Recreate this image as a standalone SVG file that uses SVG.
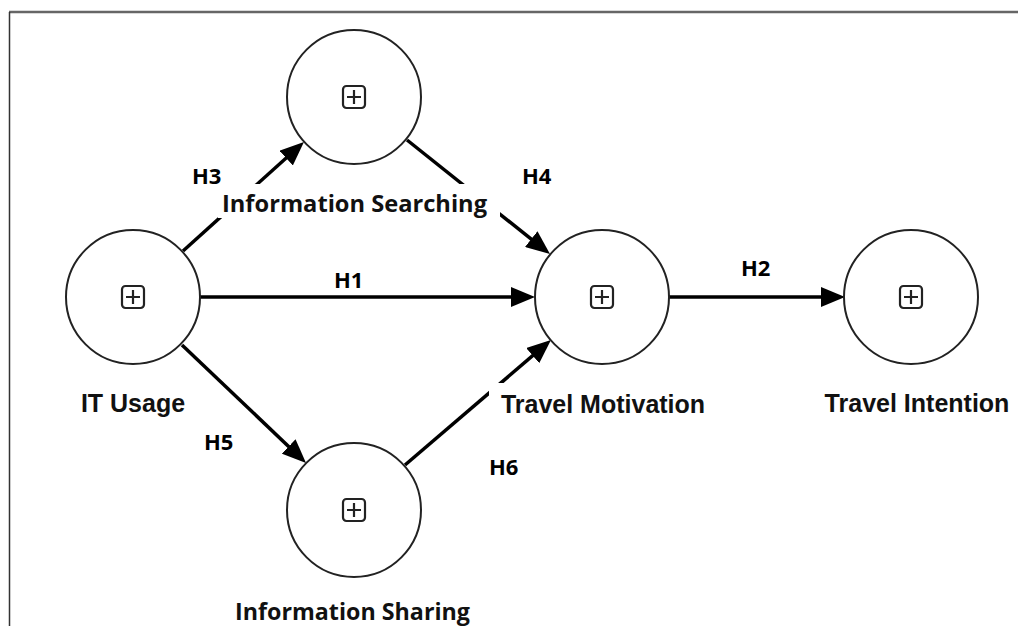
<svg xmlns="http://www.w3.org/2000/svg" width="1018" height="626" viewBox="0 0 1018 626">
  <style>
    .circ { fill: #ffffff; stroke: #222; stroke-width: 2; }
    .icon { fill: none; stroke: #222; stroke-width: 2.2; }
    .edge { stroke: #000; stroke-width: 3.5; fill: none; marker-end: url(#arrow); }
    .lbl { font-family: "Liberation Sans", Arial, sans-serif; font-weight: bold; font-size: 25px; fill: #111; }
    .lbl2 { font-family: "Open Sans", "Liberation Sans", sans-serif; font-weight: bold; font-size: 23px; fill: #111; }
    .hyp { font-family: "Open Sans", "Liberation Sans", sans-serif; font-weight: bold; font-size: 22px; fill: #000; }
    .bg { fill: #ffffff; }
  </style>
  <defs>
    <marker id="arrow" viewBox="0 0 24 20" markerWidth="24" markerHeight="20" refX="18" refY="10" orient="auto" markerUnits="userSpaceOnUse">
      <path d="M0,0 L24,10 L0,20 z" fill="#000"/>
    </marker>
  </defs>
  <rect x="0" y="0" width="1018" height="626" fill="#ffffff"/>
  <g id="frame">
    <line x1="9" y1="12" x2="1018" y2="12" stroke="#666" stroke-width="2.5"/>
    <line x1="9.5" y1="12" x2="9.5" y2="626" stroke="#333" stroke-width="1.5"/>
  </g>
  <g id="connectors">
    <path class="edge" d="M200,297 L529,297"/>
    <path class="edge" d="M669,297 L839,297"/>
    <path class="edge" d="M183,251 L299.5,146"/>
    <path class="edge" d="M407,140 L545.3,250.3"/>
    <path class="edge" d="M182,345 L301.7,458.9"/>
    <path class="edge" d="M405,465 L546.4,343.9"/>
    <text class="hyp" x="192" y="184">H3</text>
    <text class="hyp" x="522" y="184">H4</text>
    <text class="hyp" x="334" y="288">H1</text>
    <text class="hyp" x="741" y="276">H2</text>
    <text class="hyp" x="204" y="450">H5</text>
    <text class="hyp" x="489" y="475">H6</text>
  </g>
  <g id="node-info-searching">
    <circle class="circ" cx="354" cy="97" r="67"/>
    <rect class="icon" x="343" y="86" width="22" height="22" rx="3.5"/>
    <path class="icon" d="M347,97 H361 M354,90 V104"/>
    <rect class="bg" x="218" y="184" width="282" height="34"/>
    <text class="lbl2" x="354.5" y="212" text-anchor="middle" textLength="265" lengthAdjust="spacingAndGlyphs">Information Searching</text>
  </g>
  <g id="node-it-usage">
    <circle class="circ" cx="133" cy="297" r="67"/>
    <rect class="icon" x="122" y="286" width="22" height="22" rx="3.5"/>
    <path class="icon" d="M126,297 H140 M133,290 V304"/>
    <text class="lbl" x="133" y="412" text-anchor="middle">IT Usage</text>
  </g>
  <g id="node-travel-motivation">
    <circle class="circ" cx="602" cy="297" r="67"/>
    <rect class="icon" x="591" y="286" width="22" height="22" rx="3.5"/>
    <path class="icon" d="M595,297 H609 M602,290 V304"/>
    <rect class="bg" x="489" y="383" width="228" height="38"/>
    <text class="lbl" x="603" y="413" text-anchor="middle">Travel Motivation</text>
  </g>
  <g id="node-travel-intention">
    <circle class="circ" cx="911" cy="297" r="67"/>
    <rect class="icon" x="900" y="286" width="22" height="22" rx="3.5"/>
    <path class="icon" d="M904,297 H918 M911,290 V304"/>
    <text class="lbl" x="917" y="412" text-anchor="middle">Travel Intention</text>
  </g>
  <g id="node-info-sharing">
    <circle class="circ" cx="354" cy="510" r="67"/>
    <rect class="icon" x="343" y="499" width="22" height="22" rx="3.5"/>
    <path class="icon" d="M347,510 H361 M354,503 V517"/>
    <text class="lbl2" x="352.5" y="620" text-anchor="middle" textLength="235" lengthAdjust="spacingAndGlyphs">Information Sharing</text>
  </g>
</svg>
